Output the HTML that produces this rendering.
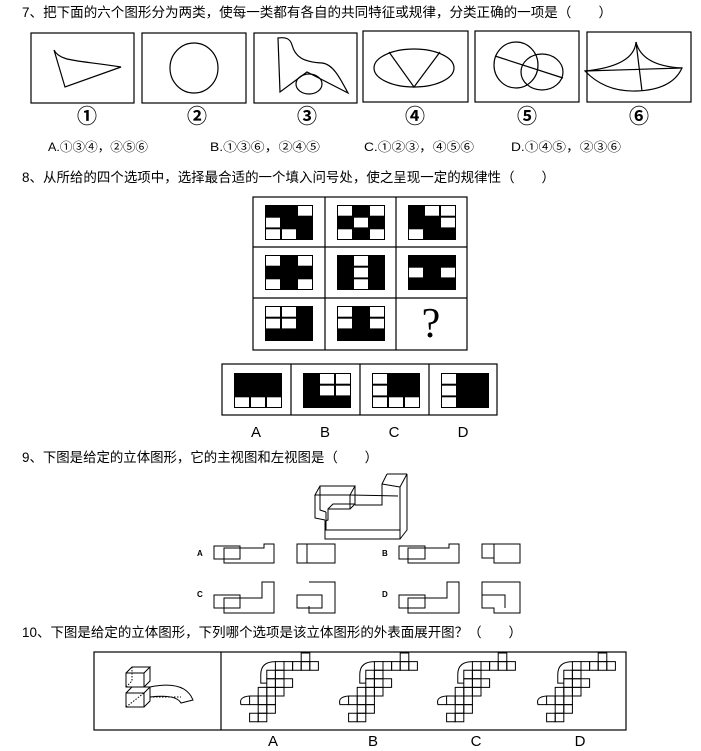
<!DOCTYPE html>
<html><head><meta charset="utf-8"><style>
html,body{margin:0;padding:0;background:#fff;}
svg{display:block;}
text{font-family:"Liberation Sans","Noto Sans CJK SC",sans-serif;fill:#000;white-space:pre;}
.s{fill:none;stroke:#000;stroke-width:1.2;}
.t{fill:none;stroke:#000;stroke-width:1;}
.w{fill:#fff;}
.c{font-family:"Noto Sans CJK SC","DejaVu Sans",sans-serif;font-weight:bold;}
</style></head><body>
<svg width="701" height="751" viewBox="0 0 701 751" xmlns="http://www.w3.org/2000/svg" xml:space="preserve">
<defs>
<g id="net" fill="none" stroke="#000" stroke-width="1">
<rect x="7" y="0" width="1" height="1" vector-effect="non-scaling-stroke"/>
<rect x="4" y="1" width="1" height="1" vector-effect="non-scaling-stroke"/>
<rect x="5" y="1" width="1" height="1" vector-effect="non-scaling-stroke"/>
<rect x="6" y="1" width="1" height="1" vector-effect="non-scaling-stroke"/>
<rect x="7" y="1" width="1" height="1" vector-effect="non-scaling-stroke"/>
<rect x="8" y="1" width="1" height="1" vector-effect="non-scaling-stroke"/>
<rect x="3" y="2" width="1" height="1" vector-effect="non-scaling-stroke"/>
<rect x="4" y="2" width="1" height="1" vector-effect="non-scaling-stroke"/>
<rect x="3" y="3" width="1" height="1" vector-effect="non-scaling-stroke"/>
<rect x="4" y="3" width="1" height="1" vector-effect="non-scaling-stroke"/>
<rect x="5" y="3" width="1" height="1" vector-effect="non-scaling-stroke"/>
<rect x="2" y="4" width="1" height="1" vector-effect="non-scaling-stroke"/>
<rect x="3" y="4" width="1" height="1" vector-effect="non-scaling-stroke"/>
<rect x="4" y="4" width="1" height="1" vector-effect="non-scaling-stroke"/>
<rect x="1" y="5" width="1" height="1" vector-effect="non-scaling-stroke"/>
<rect x="2" y="5" width="1" height="1" vector-effect="non-scaling-stroke"/>
<rect x="3" y="5" width="1" height="1" vector-effect="non-scaling-stroke"/>
<rect x="2" y="6" width="1" height="1" vector-effect="non-scaling-stroke"/>
<rect x="3" y="6" width="1" height="1" vector-effect="non-scaling-stroke"/>
<rect x="1" y="7" width="1" height="1" vector-effect="non-scaling-stroke"/>
<rect x="2" y="7" width="1" height="1" vector-effect="non-scaling-stroke"/>
<path d="M4,1 Q2.3,1 2.3,2.5 L2.3,3.5 L3,3.5" vector-effect="non-scaling-stroke"/>
<path d="M1,5 Q-0.3,5.1 0,6 L1,6" vector-effect="non-scaling-stroke"/>
</g>
</defs>

<!-- Q7 -->
<text x="22" y="17" font-size="13.5" textLength="590" lengthAdjust="spacingAndGlyphs">7、把下面的六个图形分为两类，使每一类都有各自的共同特征或规律，分类正确的一项是（　　）</text>
<g class="s" stroke-width="1.8">
<rect x="31" y="33" width="103" height="70"/>
<rect x="142" y="33" width="104" height="70"/>
<rect x="254" y="33" width="103" height="70"/>
<rect x="363" y="31" width="105" height="71"/>
<rect x="475" y="31" width="104" height="71"/>
<rect x="587" y="32" width="104" height="70"/>
</g>
<g class="s">
<path d="M54,50 C60,62 78,60 121,67 L65,87 Z"/>
<ellipse cx="194" cy="68" rx="24" ry="25"/>
<path d="M278,38 L280,92 L307,72 L348,93 C340,78 333,64 322,63 C302,62 295,56 292,45 C290,38 285,37 278,38 Z"/>
<ellipse cx="309" cy="84" rx="13" ry="10"/>
<ellipse cx="414" cy="68" rx="40" ry="19"/>
<path d="M389,52 L414,87 L440,52"/>
<ellipse cx="516" cy="65" rx="22" ry="23"/>
<ellipse cx="542" cy="72" rx="21" ry="18"/>
<path d="M495,56 L563,78"/>
<path d="M636,42 Q634,66 585,71 Q605,92 636,91 Q672,90 682,68 Q642,66 636,42 Z"/>
<path d="M585,71 L682,68 M636,42 L642,91"/>
</g>
<g font-size="20" text-anchor="middle" class="c">
<text class="c" x="87" y="123">①</text><text class="c" x="197" y="123">②</text><text class="c" x="307" y="123">③</text>
<text class="c" x="415" y="123">④</text><text class="c" x="527" y="123">⑤</text><text class="c" x="639" y="123">⑥</text>
</g>
<g font-size="12">
<text x="48" y="151" textLength="100" lengthAdjust="spacingAndGlyphs">A.①③④，②⑤⑥</text>
<text x="210" y="151" textLength="110" lengthAdjust="spacingAndGlyphs">B.①③⑥，②④⑤</text>
<text x="364" y="151" textLength="110" lengthAdjust="spacingAndGlyphs">C.①②③，④⑤⑥</text>
<text x="511" y="151" textLength="110" lengthAdjust="spacingAndGlyphs">D.①④⑤，②③⑥</text>
</g>

<!-- Q8 -->
<text x="22" y="182" font-size="13.5" textLength="533" lengthAdjust="spacingAndGlyphs">8、从所给的四个选项中，选择最合适的一个填入问号处，使之呈现一定的规律性（　　）</text>
<g class="s" stroke-width="1.5">
<rect x="253" y="197" width="214" height="153"/>
<path d="M325,197 V350 M396,197 V350 M253,247 H467 M253,298 H467"/>
<rect x="222" y="364" width="275" height="51"/>
<path d="M291,364 V415 M360,364 V415 M429,364 V415"/>
</g>
<g>
<g transform="translate(265,205)"><rect width="48" height="35"/><g class="w"><rect x="33" y="1" width="14" height="9.7"/><rect x="1" y="12.7" width="14" height="9.7"/><rect x="1" y="24.3" width="14" height="9.7"/><rect x="17" y="24.3" width="14" height="9.7"/></g></g>
<g transform="translate(337,205)"><rect width="48" height="35"/><g class="w"><rect x="1" y="1" width="14" height="9.7"/><rect x="33" y="1" width="14" height="9.7"/><rect x="17" y="12.7" width="14" height="9.7"/><rect x="1" y="24.3" width="14" height="9.7"/><rect x="33" y="24.3" width="14" height="9.7"/></g></g>
<g transform="translate(408,205)"><rect width="48" height="35"/><g class="w"><rect x="17" y="1" width="14" height="9.7"/><rect x="33" y="1" width="14" height="9.7"/><rect x="33" y="12.7" width="14" height="9.7"/><rect x="1" y="24.3" width="14" height="9.7"/></g></g>
<g transform="translate(265,255)"><rect width="48" height="35"/><g class="w"><rect x="1" y="1" width="14" height="9.7"/><rect x="33" y="1" width="14" height="9.7"/><rect x="1" y="24.3" width="14" height="9.7"/><rect x="33" y="24.3" width="14" height="9.7"/></g></g>
<g transform="translate(337,255)"><rect width="48" height="35"/><g class="w"><rect x="17" y="1" width="14" height="9.7"/><rect x="17" y="12.7" width="14" height="9.7"/><rect x="17" y="24.3" width="14" height="9.7"/></g></g>
<g transform="translate(408,255)"><rect width="48" height="35"/><g class="w"><rect x="1" y="12.7" width="14" height="9.7"/><rect x="33" y="12.7" width="14" height="9.7"/></g></g>
<g transform="translate(265,306)"><rect width="48" height="35"/><g class="w"><rect x="1" y="1" width="14" height="9.7"/><rect x="17" y="1" width="14" height="9.7"/><rect x="1" y="12.7" width="14" height="9.7"/><rect x="17" y="12.7" width="14" height="9.7"/></g></g>
<g transform="translate(337,306)"><rect width="48" height="35"/><g class="w"><rect x="1" y="1" width="14" height="9.7"/><rect x="33" y="1" width="14" height="9.7"/><rect x="1" y="12.7" width="14" height="9.7"/><rect x="33" y="12.7" width="14" height="9.7"/></g></g>
<g transform="translate(234,373)"><rect width="48" height="35"/><g class="w"><rect x="1" y="24.3" width="14" height="9.7"/><rect x="17" y="24.3" width="14" height="9.7"/><rect x="33" y="24.3" width="14" height="9.7"/></g></g>
<g transform="translate(303,373)"><rect width="48" height="35"/><g class="w"><rect x="17" y="1" width="14" height="9.7"/><rect x="33" y="1" width="14" height="9.7"/><rect x="17" y="12.7" width="14" height="9.7"/><rect x="33" y="12.7" width="14" height="9.7"/></g></g>
<g transform="translate(372,373)"><rect width="48" height="35"/><g class="w"><rect x="1" y="1" width="14" height="9.7"/><rect x="1" y="12.7" width="14" height="9.7"/><rect x="1" y="24.3" width="14" height="9.7"/><rect x="17" y="24.3" width="14" height="9.7"/><rect x="33" y="24.3" width="14" height="9.7"/></g></g>
<g transform="translate(441,373)"><rect width="48" height="35"/><g class="w"><rect x="1" y="1" width="14" height="9.7"/><rect x="1" y="12.7" width="14" height="9.7"/><rect x="1" y="24.3" width="14" height="9.7"/></g></g>
</g>
<text x="431" y="337" font-size="42" text-anchor="middle" style="font-family:'Liberation Serif',serif">?</text>
<g font-size="15" text-anchor="middle">
<text x="256" y="437">A</text><text x="325" y="437">B</text><text x="394" y="437">C</text><text x="463" y="437">D</text>
</g>

<!-- Q9 -->
<text x="22" y="462" font-size="13.5" textLength="356" lengthAdjust="spacingAndGlyphs">9、下图是给定的立体图形，它的主视图和左视图是（　　）</text>
<g class="t" stroke-width="0.9">
<path d="M315,495 L320,486 L355,486 L350,495 Z"/>
<path d="M315,495 V518 L325,520 M320,486 V510 L326,512"/>
<path d="M350,495 V509 L328,509 V520 L325,521 V539 L400,539 V487 L407,474 V530 L400,539"/>
<path d="M355,486 V504 L350,509 M328,509 L333,504 L355,504"/>
<path d="M387,474 L407,474 M387,474 L382,484 V505 L355,505 M382,484 L400,487"/>
<path d="M350,495 L398,496 M326,512 V530 L400,530"/>
</g>
<g class="t">
<rect x="214" y="546" width="26" height="13"/>
<path d="M224,548 H264 V544 H274 V563 H224 Z"/>
<rect x="297" y="544" width="10" height="19"/>
<rect x="307" y="544" width="28" height="19"/>
<rect x="399" y="546" width="26" height="13"/>
<path d="M408,548 H449 V544 H459 V563 H408 Z"/>
<path d="M482,544 H520 V563 H494 V558 H482 Z M494,558 V544"/>
<rect x="214" y="595" width="26" height="13"/>
<path d="M224,598 H262 V582 H274 V613 H224 Z"/>
<path d="M309,582 H335 V613 H309 V606 M297,595 H322 V608 H297 Z"/>
<rect x="399" y="595" width="26" height="13"/>
<path d="M408,598 H447 V582 H459 V613 H408 Z"/>
<path d="M482,582 H520 V613 H494 V608 H482 Z M482,595 H505 V608"/>
</g>
<g font-size="8" font-weight="bold">
<text x="197" y="556">A</text><text x="382" y="556">B</text>
<text x="197" y="597">C</text><text x="382" y="597">D</text>
</g>

<!-- Q10 -->
<text x="22" y="637" font-size="13.5" textLength="500" lengthAdjust="spacingAndGlyphs">10、下图是给定的立体图形，下列哪个选项是该立体图形的外表面展开图？（　　）</text>
<g class="s" stroke-width="1.4">
<rect x="94" y="652" width="532" height="78"/>
<path d="M221,652 V730"/>
</g>
<g class="t">
<path d="M126,673 H144 V687 H126 Z M126,673 L132,667 H150 L144,673 M150,667 V681 L144,687"/>
<path d="M126,693 H144 V707 H126 Z M126,693 L132,687 H150 L144,693 M150,687 V701 L144,707"/>
<path d="M150,687 Q185,680 193,700 L181,703 Q176,694 150,697"/>
<path d="M126,707 L144,693 M132,667 V681 L126,687" stroke-dasharray="1.5,1.5"/>
<path d="M150,697 L181,697" stroke-dasharray="1.5,1.5"/>
</g>
<use href="#net" transform="translate(241,653) scale(8.6)"/>
<use href="#net" transform="translate(340,653) scale(8.6)"/>
<use href="#net" transform="translate(438,653) scale(8.6)"/>
<use href="#net" transform="translate(538,653) scale(8.6)"/>
<g font-size="15" text-anchor="middle">
<text x="273" y="746">A</text><text x="373" y="746">B</text><text x="476" y="746">C</text><text x="580" y="746">D</text>
</g>
</svg>
</body></html>
